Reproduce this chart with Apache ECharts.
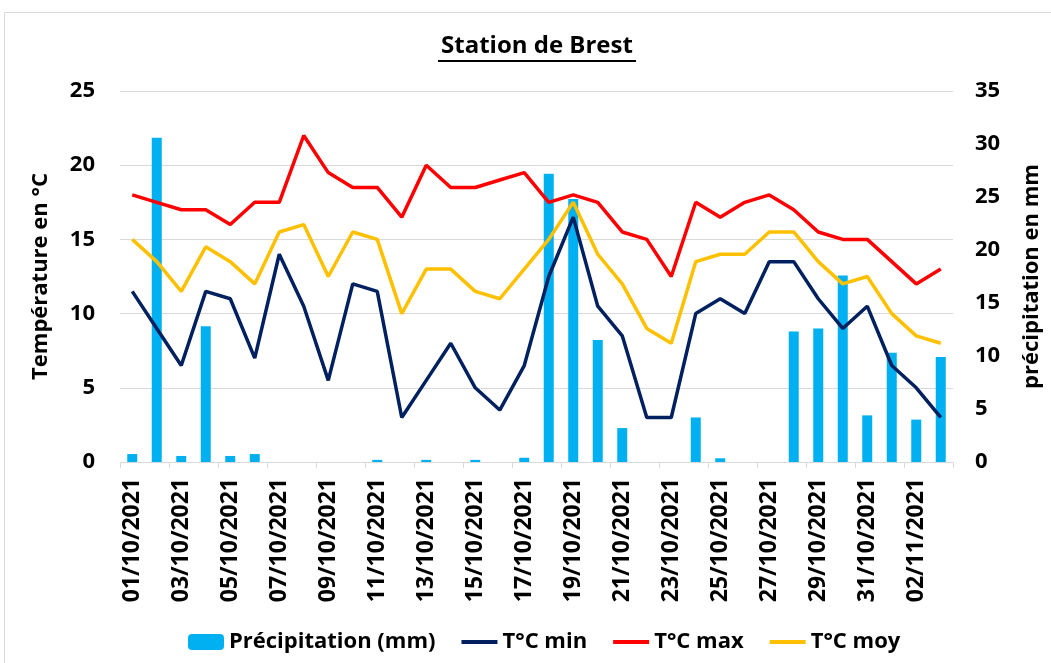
<!DOCTYPE html>
<html>
<head>
<meta charset="utf-8">
<script src="https://cdn.jsdelivr.net/npm/echarts@6/dist/echarts.min.js"></script>
<style>
  html, body { margin: 0; padding: 0; background: #fff; }
  #main { width: 1051px; height: 663px; }
</style>
</head>
<body>
<div id="main"></div>
<script>
var dates = ['01/10/2021', '02/10/2021', '03/10/2021', '04/10/2021', '05/10/2021', '06/10/2021',
  '07/10/2021', '08/10/2021', '09/10/2021', '10/10/2021', '11/10/2021', '12/10/2021',
  '13/10/2021', '14/10/2021', '15/10/2021', '16/10/2021', '17/10/2021', '18/10/2021',
  '19/10/2021', '20/10/2021', '21/10/2021', '22/10/2021', '23/10/2021', '24/10/2021',
  '25/10/2021', '26/10/2021', '27/10/2021', '28/10/2021', '29/10/2021', '30/10/2021',
  '31/10/2021', '01/11/2021', '02/11/2021', '03/11/2021'];

var precip = [0.75, 30.6, 0.57, 12.8, 0.57, 0.75, 0, 0, 0, 0, 0.2, 0, 0.2, 0, 0.2, 0, 0.4,
  27.2, 24.8, 11.5, 3.2, 0, 0, 4.2, 0.35, 0, 0, 12.3, 12.6, 17.6, 4.4, 10.3, 4.0, 9.9];

var tMin = [11.5, 9.0, 6.5, 11.5, 11.0, 7.0, 14.0, 10.5, 5.5, 12.0, 11.5, 3.0, 5.5, 8.0, 5.0,
  3.5, 6.5, 12.5, 16.5, 10.5, 8.5, 3.0, 3.0, 10.0, 11.0, 10.0, 13.5, 13.5, 11.0, 9.0, 10.5,
  6.5, 5.0, 3.0];

var tMax = [18.0, 17.5, 17.0, 17.0, 16.0, 17.5, 17.5, 22.0, 19.5, 18.5, 18.5, 16.5, 20.0, 18.5,
  18.5, 19.0, 19.5, 17.5, 18.0, 17.5, 15.5, 15.0, 12.5, 17.5, 16.5, 17.5, 18.0, 17.0, 15.5,
  15.0, 15.0, 13.5, 12.0, 13.0];

var tMoy = [15.0, 13.5, 11.5, 14.5, 13.5, 12.0, 15.5, 16.0, 12.5, 15.5, 15.0, 10.0, 13.0, 13.0,
  11.5, 11.0, 13.0, 15.0, 17.5, 14.0, 12.0, 9.0, 8.0, 13.5, 14.0, 14.0, 15.5, 15.5, 13.5,
  12.0, 12.5, 10.0, 8.5, 8.0];

var font = '"Open Sans", "Liberation Sans", sans-serif';
var chart = echarts.init(document.getElementById('main'));

// legend entries for lines: keep the line, hide the symbol
function lineLegend(name) {
  return { name: name, itemStyle: { opacity: 0 }, lineStyle: { width: 4 } };
}

var option = {
  animation: false,
  textStyle: { fontFamily: font },
  graphic: [
    {
      type: 'rect',
      shape: { x: 4.5, y: 12.5, width: 1080, height: 700 },
      style: { fill: 'none', stroke: '#d9d9d9', lineWidth: 1 }
    },
    {
      type: 'line',
      shape: { x1: 438, y1: 61, x2: 636, y2: 61 },
      style: { stroke: '#000', lineWidth: 2 }
    }
  ],
  title: {
    text: 'Station de Brest',
    left: 436,
    top: 29,
    textStyle: { fontSize: 24, fontWeight: 'bold', color: '#000', fontFamily: font }
  },
  legend: {
    top: 626,
    left: 183,
    itemGap: 24,
    itemWidth: 36,
    itemHeight: 16,
    textStyle: { fontSize: 22, fontWeight: 'bold', color: '#000', fontFamily: font },
    data: ['Précipitation (mm)', lineLegend('T°C min'), lineLegend('T°C max'), lineLegend('T°C moy')]
  },
  grid: {
    left: 120,
    right: 98,
    top: 91,
    bottom: 201,
    outerBoundsMode: 'none'
  },
  xAxis: {
    type: 'category',
    data: dates,
    boundaryGap: true,
    axisLine: { lineStyle: { color: '#d9d9d9' } },
    axisTick: { show: true, interval: 1, length: 6, lineStyle: { color: '#d9d9d9' } },
    axisLabel: {
      interval: 1,
      rotate: 90,
      margin: 16,
      fontSize: 23,
      fontWeight: 'bold',
      color: '#000',
      fontFamily: font
    }
  },
  yAxis: [{
    type: 'value',
    min: 0,
    max: 25,
    interval: 5,
    name: 'Température en °C',
    nameLocation: 'middle',
    nameRotate: 90,
    nameGap: 68,
    nameTextStyle: { fontSize: 22, fontWeight: 'bold', color: '#000', fontFamily: font },
    axisLine: { show: false },
    axisTick: { show: false },
    splitLine: { lineStyle: { color: '#d9d9d9', width: 1 } },
    axisLabel: { margin: 25, fontSize: 22, fontWeight: 'bold', color: '#000', fontFamily: font }
  }, {
    type: 'value',
    min: 0,
    max: 35,
    interval: 5,
    name: 'précipitation en mm',
    nameLocation: 'middle',
    nameRotate: 90,
    nameGap: 68,
    nameTextStyle: { fontSize: 22, fontWeight: 'bold', color: '#000', fontFamily: font },
    axisLine: { show: false },
    axisTick: { show: false },
    splitLine: { show: false },
    axisLabel: { margin: 22, fontSize: 22, fontWeight: 'bold', color: '#000', fontFamily: font }
  }],
  series: [{
      name: 'Précipitation (mm)',
      type: 'bar',
      yAxisIndex: 1,
      barWidth: 10,
      itemStyle: { color: '#00b0f0' },
      data: precip,
      z: 1
    },
    {
      name: 'T°C min',
      type: 'line',
      symbol: 'none',
      lineStyle: { color: '#002060', width: 3.5 },
      itemStyle: { color: '#002060' },
      data: tMin,
      z: 3
    },
    {
      name: 'T°C max',
      type: 'line',
      symbol: 'none',
      lineStyle: { color: '#ff0000', width: 3.5 },
      itemStyle: { color: '#ff0000' },
      data: tMax,
      z: 3
    },
    {
      name: 'T°C moy',
      type: 'line',
      symbol: 'none',
      lineStyle: { color: '#ffc000', width: 3.5 },
      itemStyle: { color: '#ffc000' },
      data: tMoy,
      z: 3
    }
  ]
};

chart.setOption(option);
</script>
</body>
</html>
